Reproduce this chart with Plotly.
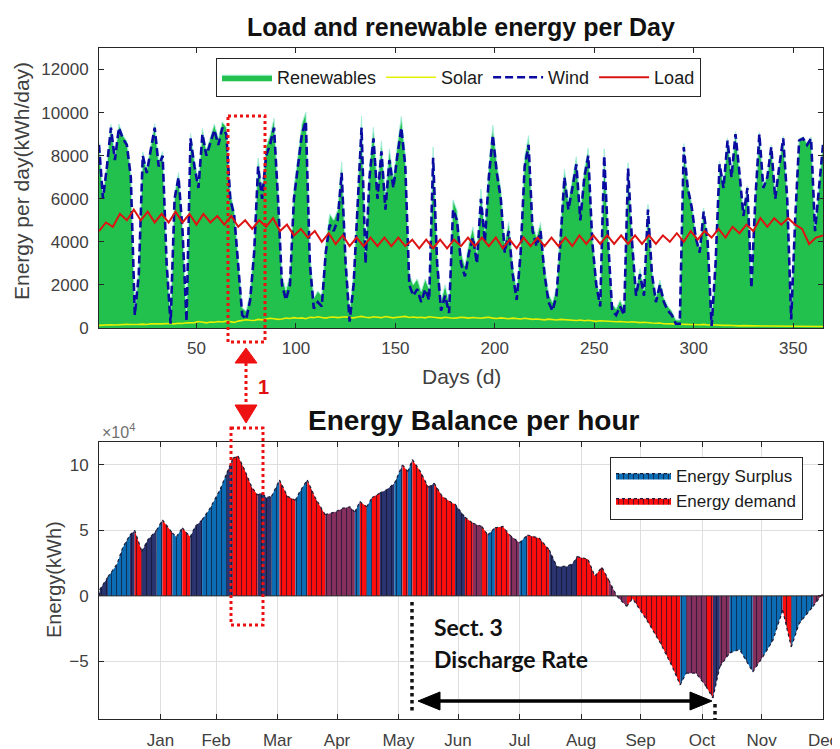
import numpy as np
import plotly.graph_objects as go

# page has an 8px body margin: the figure is drawn from (8, 8) to (840, 749)
OFF = 8
W, H = 840 - OFF, 749 - OFF

# ---------------- top chart data (daily energy, kWh/day), every 2nd day ----------------
wind = [8500, 6000, 7500, 9300, 7800, 9300, 8800, 8500, 7000, 600,
        2500, 8000, 7200, 8300, 9300, 7500, 8000, 3000, 200, 6000,
        7000, 4500, 300, 8800, 7500, 6500, 9000, 8000, 8600, 9200,
        8500, 9300, 9000, 6000, 5200, 3000, 600, 400, 1300, 3500,
        7500, 6000, 8000, 8500, 9300, 6000, 2000, 1300, 2000, 6000,
        7500, 9000, 9600, 3000, 900, 1200, 1000, 3500, 4800, 4500,
        5000, 7200, 3000, 300, 2000, 6000, 9300, 3000, 7000, 8800,
        6000, 8200, 5500, 7800, 6500, 8000, 9300, 7500, 2000, 1500,
        1800, 1200, 1800, 1300, 7900, 3000, 800, 1500, 700, 5500,
        5000, 3000, 2400, 3500, 4200, 3000, 6000, 4000, 7000, 8950,
        7200, 6000, 3500, 4500, 2500, 1300, 3500, 7500, 8500, 4500,
        3800, 4500, 2500, 1200, 800, 1500, 4000, 7000, 5500, 6500,
        7600, 5000, 7000, 8000, 4000, 2000, 1000, 8000, 4000, 800,
        600, 1000, 600, 7400, 4000, 1500, 2500, 1500, 5500, 2500,
        1200, 2000, 1200, 800, 600, 200, 200, 8400, 6500, 5600,
        4200, 3500, 5400, 4000, 100, 3000, 7600, 6500, 8700, 7000,
        9000, 7200, 5200, 6500, 1850, 6000, 9000, 6500, 7000, 8400,
        6000, 7500, 8800, 6000, 400, 5000, 8700, 8800, 8500, 8800,
        4500, 6500, 8500]

solar = [120, 140, 130, 150, 140, 160, 150, 170, 160, 150,
         170, 180, 160, 190, 180, 200, 190, 210, 200, 190,
         220, 210, 240, 230, 250, 300, 260, 240, 280, 270,
         300, 280, 320, 300, 260, 320, 340, 380, 360, 350,
         400, 380, 420, 450, 430, 400, 420, 460, 440, 480,
         450, 470, 430, 500, 480, 520, 490, 460, 500, 510,
         480, 500, 520, 490, 470, 510, 540, 500, 480, 520,
         500, 480, 530, 510, 470, 500, 520, 540, 490, 510,
         480, 500, 470, 520, 500, 490, 460, 500, 480, 450,
         470, 500, 480, 460, 490, 470, 450, 480, 500, 460,
         440, 470, 450, 430, 460, 440, 420, 450, 430, 400,
         420, 400, 380, 410, 390, 370, 400, 380, 360, 370,
         350, 370, 340, 360, 330, 310, 340, 320, 300, 310,
         290, 300, 280, 270, 290, 260, 250, 270, 240, 230,
         220, 230, 200, 210, 190, 180, 170, 160, 180, 170,
         160, 150, 170, 140, 150, 130, 140, 120, 130, 110,
         110, 100, 110, 100, 100, 90, 100, 90, 90, 90,
         90, 80, 90, 80, 80, 80, 80, 70, 80, 70,
         70, 80, 70]

# load sampled twice a week (weekly oscillation peaks / troughs)
load = [4500, 4900, 4700, 5300, 5000, 5500, 5000, 5400, 4900, 5300,
        4900, 5400, 4900, 5300, 4800, 5300, 4900, 5200, 4800, 5200,
        4700, 5000, 4600, 5000, 4700, 5100, 4500, 4800, 4300, 4600,
        4200, 4500, 4000, 4400, 3900, 4300, 3800, 4200, 3800, 4200,
        3800, 4200, 3800, 4200, 3800, 4100, 3700, 4100, 3700, 4100,
        3700, 4100, 3800, 4200, 3800, 4200, 3800, 4200, 3700, 4100,
        3700, 4200, 3800, 4200, 3800, 4200, 3800, 4200, 3800, 4300,
        3900, 4300, 3900, 4300, 3900, 4300, 3900, 4300, 3900, 4300,
        3900, 4300, 4000, 4400, 4000, 4500, 4100, 4500, 4200, 4600,
        4200, 4700, 4400, 4800, 4500, 5100, 4700, 5100, 4800, 5100,
        4800, 4600, 3900, 4200, 4300]

day_ticks = [50, 100, 150, 200, 250, 300, 350]
energy_ticks = [0, 2000, 4000, 6000, 8000, 10000, 12000]

# ---------------- bottom chart data (cumulative balance, x10^4 kWh) ----------------
balance_days = [0, 0.5, 4.5, 9, 12, 15.6, 18, 21.6, 24.7, 29, 32, 37, 39, 42, 46, 48.5,
                52, 56, 61, 64.5, 67.5, 70, 73.5, 77, 80, 82, 84.5, 87, 91, 95, 99, 101,
                105, 109, 114, 119, 123, 126.5, 129, 131.5, 135, 137.6, 141.6, 145, 149,
                153, 155.7, 158, 162, 166, 169, 173, 178, 179.5, 184.5, 188.5, 193, 196,
                199.6, 203.6, 207, 212, 216, 222, 227, 231, 233, 236, 239, 241, 246.5,
                250, 253.5, 257, 261, 266, 269, 276, 283, 289, 293, 296, 301, 306, 309.5,
                313, 318, 323, 329.6, 334.7, 339.7, 344.7, 349, 353, 360, 365]
balance_vals = [0, 0.5, 1.45, 2.4, 3.7, 4.65, 5.0, 3.4, 4.3, 5.0, 5.8, 4.8, 4.5, 5.2, 4.5, 5.3,
                5.8, 6.7, 8.1, 9.4, 10.5, 10.7, 9.6, 8.3, 7.7, 7.85, 7.5, 7.6, 8.85, 7.6, 7.3, 7.9,
                8.85, 7.5, 6.2, 6.4, 6.7, 6.8, 6.4, 7.2, 6.8, 7.5, 7.85, 8.1, 8.6,
                10.0, 9.5, 10.4, 9.5, 8.3, 8.6, 7.6, 7.1, 7.0, 6.0, 5.55, 5.3, 4.65,
                5.2, 5.3, 4.65, 4.05, 4.65, 4.4, 3.5, 2.2, 2.25, 2.25, 2.5, 3.0, 2.8,
                1.5, 2.2, 1.2, 0, -0.8, -0.2, -1.8, -3.6, -5.4, -6.8, -5.9, -5.9, -6.9, -7.8,
                -5.4, -4.35, -4.1, -5.8, -4.65, -3.4, -1.1, -3.9, -2.1, -0.8, 0.2]

# colour blocks along the year: end day and kind (B surplus, R demand, D/P mixed)
seg_ends = [5, 16, 18, 21.6, 28, 31, 37, 41, 46, 53, 65, 68, 80, 87, 91, 99, 105, 115, 129,
            131.5, 135, 138, 143, 150, 153, 156, 158, 166, 169, 179, 185, 188, 192, 196, 200,
            207, 213, 215, 229, 242, 258, 264, 293, 298, 304, 309, 313, 320, 327,
            333, 343, 350, 360, 366]
seg_kinds = ["D", "B", "D", "R", "D", "B", "R", "B", "R", "D", "B", "D", "R", "D", "B", "R",
             "B", "R", "P", "B", "R", "B", "R", "D", "B", "R", "B", "R", "D", "R", "D", "R",
             "P", "R", "B", "R", "P", "B", "R", "D", "R", "P", "R", "B", "P", "R",
             "D", "P", "B", "P", "B", "R", "B", "P"]

month_ticks = [31, 59, 90, 120, 151, 181, 212, 243, 273, 304, 334, 365]
month_labels = ["Jan", "Feb", "Mar", "Apr", "May", "Jun", "Jul", "Aug", "Sep", "Oct", "Nov", "Dec"]
balance_ticks = [-5, 0, 5, 10]

# ---------------- styling ----------------
GREEN = "#22c04c"
TICKC = "#404040"
AXC = "#262626"
FONT = "Liberation Sans, Arial, sans-serif"
KIND_COLORS = {"B": "#0b6db5", "R": "#ff0c0c", "D": "#2a3470", "P": "#86305e"}


def px(x):
    return (x - OFF) / W


def py(y):
    return 1 - (y - OFF) / H


fig = go.Figure()

n = min(len(wind), len(solar))
days = 1 + 2 * np.arange(n)
wind_a = np.array(wind[:n], dtype=float)
solar_a = np.array(solar[:n], dtype=float)
renew = wind_a + solar_a
load_days = 1 + 3.5 * np.arange(len(load))

fig.add_trace(go.Scatter(x=days, y=renew, name="Renewables", mode="lines", fill="tozeroy",
                         fillcolor=GREEN, line=dict(color="#a8f0dc", width=1),
                         xaxis="x", yaxis="y", legend="legend"))
fig.add_trace(go.Scatter(x=days, y=solar_a, name="Solar", mode="lines",
                         line=dict(color="#e4f000", width=1.6),
                         xaxis="x", yaxis="y", legend="legend"))
fig.add_trace(go.Scatter(x=days, y=wind_a, name="Wind", mode="lines",
                         line=dict(color="#0a0aa0", width=2.6, dash="8px,4px"),
                         xaxis="x", yaxis="y", legend="legend"))
fig.add_trace(go.Scatter(x=load_days, y=load, name="Load", mode="lines",
                         line=dict(color="#dd1414", width=2),
                         xaxis="x", yaxis="y", legend="legend"))

# bottom: filled blocks
bd = np.array(balance_days, dtype=float)
bv = np.array(balance_vals, dtype=float)
mids = (bd[:-1] + bd[1:]) / 2
seg_idx = np.clip(np.searchsorted(np.array(seg_ends), mids, side="right"), 0, len(seg_kinds) - 1)
kinds = [seg_kinds[i] for i in seg_idx]

runs = []
start = 0
for i in range(1, len(kinds) + 1):
    if i == len(kinds) or kinds[i] != kinds[start]:
        runs.append((start, i, kinds[start]))
        start = i

shown = set()
for (a, b, k) in runs:
    col = KIND_COLORS[k]
    name = None
    show = False
    if k == "B" and "B" not in shown:
        name, show = "Energy Surplus", True
        shown.add("B")
    elif k == "R" and "R" not in shown:
        name, show = "Energy demand", True
        shown.add("R")
    fig.add_trace(go.Scatter(
        x=bd[a:b + 1], y=bv[a:b + 1], mode="lines", fill="tozeroy",
        fillcolor=col,
        fillpattern=dict(shape="|", size=5, solidity=0.22, fgcolor="rgba(15,15,40,0.65)",
                         bgcolor=col, fillmode="replace"),
        line=dict(color="#1c1c38", width=1.2, dash="dot"),
        name=name, showlegend=show, legend="legend2",
        legendrank=1 if k == "B" else 2,
        xaxis="x2", yaxis="y2"))

common_axis = dict(showline=True, linecolor=AXC, linewidth=1, mirror="ticks", ticks="inside",
                   ticklen=5, tickcolor=AXC, tickfont=dict(family=FONT, size=17, color=TICKC),
                   automargin=False, zeroline=False)

fig.update_layout(
    width=W, height=H, margin=dict(l=0, r=0, t=0, b=0),
    paper_bgcolor="white", plot_bgcolor="white",
    font=dict(family=FONT),
    xaxis=dict(domain=[px(99), px(823)], range=[1, 365], tickvals=day_ticks,
               anchor="y", showgrid=False, ticklabelstandoff=5, **common_axis),
    yaxis=dict(domain=[py(328), py(48)], range=[0, 13000], tickvals=energy_ticks,
               tickformat="d", anchor="x", showgrid=False, ticklabelstandoff=6, **common_axis),
    xaxis2=dict(domain=[px(99), px(823)], range=[0, 365], tickvals=month_ticks,
                ticktext=month_labels, anchor="y2", showgrid=True, gridcolor="#dedede",
                ticklabelstandoff=6, **common_axis),
    yaxis2=dict(domain=[py(719), py(442)], range=[-9.4, 11.75], tickvals=balance_ticks,
                anchor="x2", showgrid=True, gridcolor="#dedede", ticklabelstandoff=6,
                **common_axis),
    legend=dict(orientation="h", x=px(216), y=py(58), xanchor="left", yanchor="top",
                bgcolor="white", bordercolor=AXC, borderwidth=1,
                font=dict(family=FONT, size=18, color="#1a1a1a"), itemwidth=50,
                traceorder="normal"),
    legend2=dict(orientation="v", x=px(610), y=py(457), xanchor="left", yanchor="top",
                 bgcolor="white", bordercolor=AXC, borderwidth=1,
                 font=dict(family=FONT, size=17, color="#1a1a1a"), itemwidth=55,
                 traceorder="normal", tracegroupgap=0),
    showlegend=True,
)

# zero line for bottom chart
fig.add_shape(type="line", xref="x2", yref="y2", x0=0, x1=365, y0=0, y1=0,
              line=dict(color="#303030", width=1))

ann = []
ann.append(dict(text="<b>Load and renewable energy per Day</b>", x=px(461), y=py(27),
                font=dict(family=FONT, size=25, color="#111")))
ann.append(dict(text="Days (d)", x=px(461), y=py(377),
                font=dict(family=FONT, size=21, color=TICKC)))
ann.append(dict(text="Energy per day(kWh/day)", x=px(21), y=py(181), textangle=-90,
                font=dict(family=FONT, size=21, color=TICKC)))
ann.append(dict(text="<b>Energy Balance per hour</b>", x=px(474), y=py(420),
                font=dict(family=FONT, size=28, color="#111")))
ann.append(dict(text="Energy(kWh)", x=px(54), y=py(580), textangle=-90,
                font=dict(family=FONT, size=20, color=TICKC)))
ann.append(dict(text="×10<sup>4</sup>", x=px(100), y=py(431), xanchor="left",
                font=dict(family=FONT, size=16, color="#707070")))
ann.append(dict(text="<b>1</b>", x=px(263), y=py(387),
                font=dict(family=FONT, size=20, color="#e01010")))
ann.append(dict(text="<b>Sect. 3</b>", x=px(432), y=py(627), xanchor="left",
                font=dict(family="Lato, sans-serif", size=23, color="#111")))
ann.append(dict(text="<b>Discharge Rate</b>", x=px(432), y=py(659), xanchor="left",
                font=dict(family="Lato, sans-serif", size=23, color="#111")))
for a in ann:
    a.setdefault("xanchor", "center")
    a.update(xref="paper", yref="paper", yanchor="middle", showarrow=False)
fig.update_layout(annotations=ann)

RED = "#ee1111"


def rect(x0, y0, x1, y1, color, width, dash):
    fig.add_shape(type="rect", xref="paper", yref="paper", x0=px(x0), x1=px(x1),
                  y0=py(y0), y1=py(y1), line=dict(color=color, width=width, dash=dash))


def seg(x0, y0, x1, y1, color, width, dash="solid"):
    fig.add_shape(type="line", xref="paper", yref="paper", x0=px(x0), x1=px(x1),
                  y0=py(y0), y1=py(y1), line=dict(color=color, width=width, dash=dash))


def tri(pts, color):
    p = "M " + " L ".join(f"{px(a)},{py(b)}" for a, b in pts) + " Z"
    fig.add_shape(type="path", xref="paper", yref="paper", path=p,
                  fillcolor=color, line=dict(color=color, width=1))


rect(228, 116, 265, 342, RED, 3, "dot")
rect(231, 428, 263, 625, RED, 3, "dot")
seg(246, 363, 246, 405, RED, 3, "dot")
tri([(246, 348), (235, 363), (257, 363)], RED)
tri([(246, 423), (235, 405), (257, 405)], RED)

seg(412, 602, 412, 713, "#111", 3.5, "dot")
seg(715, 704, 715, 720, "#111", 3.5, "dot")
seg(432, 701, 698, 701, "#000", 3.5)
tri([(418, 701), (440, 692), (440, 710)], "#000")
tri([(712, 701), (690, 692), (690, 710)], "#000")

fig.write_html("out.html")
